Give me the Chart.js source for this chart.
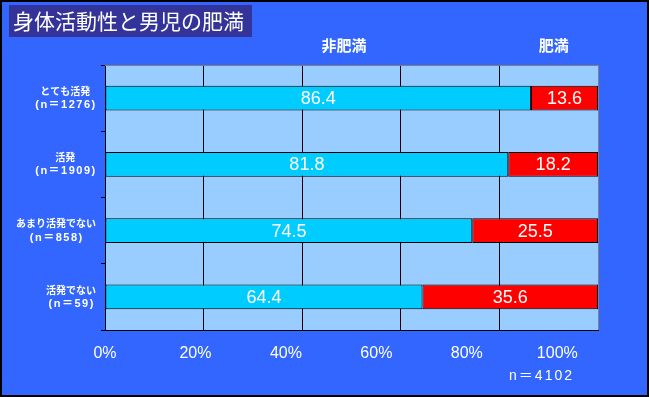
<!DOCTYPE html>
<html><head><meta charset="utf-8">
<script src="https://cdn.jsdelivr.net/npm/chart.js@4"></script>
<style>html,body{margin:0;padding:0;background:#3366FF;}</style>
</head><body>
<canvas id="c" width="649" height="397"></canvas>
<script>
const titleText = '身体活動性と男児の肥満';
const categories = [['とても活発','(n＝1276)'],['活発','(n＝1909)'],['あまり活発でない','(n＝858)'],['活発でない','(n＝59)']];
const seriesNames = ['非肥満','肥満'];
const nonObese = [86.4, 81.8, 74.5, 64.4];
const obese = [13.6, 18.2, 25.5, 35.6];
const tickValues = [0, 20, 40, 60, 80, 100];
const footnote = 'n＝4102';

const JP = '"Noto Sans CJK JP"';
const LAT = '"Liberation Sans", ' + JP;

const deco = {
  id: 'deco',
  beforeDraw(chart) {
    const ctx = chart.ctx, a = chart.chartArea;
    ctx.save();
    ctx.fillStyle = '#3366FF';
    ctx.fillRect(0, 0, chart.width, chart.height);
    ctx.fillStyle = '#99CCFF';
    ctx.fillRect(a.left, a.top, a.right - a.left, a.bottom - a.top);
    // title box
    ctx.fillStyle = '#333399';
    ctx.fillRect(9, 5, 243, 32);
    ctx.fillStyle = '#FFFFFF';
    ctx.font = '21px ' + JP;
    ctx.textBaseline = 'middle';
    ctx.textAlign = 'left';
    ctx.fillText(titleText, 13, 21);
    ctx.restore();
  },
  afterDatasetsDraw(chart) {
    const ctx = chart.ctx;
    ctx.save();
    ctx.fillStyle = '#FFFFFF';
    ctx.font = '18px ' + LAT;
    ctx.textAlign = 'center';
    ctx.textBaseline = 'middle';
    chart.data.datasets.forEach((ds, di) => {
      const meta = chart.getDatasetMeta(di);
      meta.data.forEach((el, i) => {
        const cx = (el.x + el.base) / 2;
        ctx.fillText(ds.data[i].toFixed(1), cx, el.y + 1);
      });
    });
    ctx.restore();
  },
  afterDraw(chart) {
    const ctx = chart.ctx, a = chart.chartArea;
    const xs = chart.scales.x, ys = chart.scales.y;
    ctx.save();
    // top gray edge
    ctx.strokeStyle = '#808080';
    ctx.lineWidth = 1;
    ctx.beginPath();
    ctx.moveTo(a.left, a.top + 0.5); ctx.lineTo(a.right, a.top + 0.5);
    ctx.stroke();
    // bottom black edge
    ctx.strokeStyle = '#000000';
    ctx.beginPath();
    ctx.moveTo(a.left, a.bottom + 0.5); ctx.lineTo(a.right + 1, a.bottom + 0.5);
    ctx.stroke();
    // y labels
    ctx.fillStyle = '#FFFFFF';
    ctx.textBaseline = 'middle';
    ctx.textAlign = 'center';
    categories.forEach((lines, i) => {
      const y = ys.getPixelForValue(i);
      ctx.font = 'bold 10px ' + JP;
      ctx.letterSpacing = '0px';
      const w1 = ctx.measureText(lines[0]).width;
      ctx.font = 'bold 11px ' + LAT;
      ctx.letterSpacing = '1.5px';
      const w2 = ctx.measureText(lines[1]).width;
      const cx = 96 - Math.max(w1, w2) / 2;
      ctx.font = 'bold 10px ' + JP;
      ctx.letterSpacing = '0px';
      ctx.fillText(lines[0], cx, y - 7);
      ctx.font = 'bold 11px ' + LAT;
      ctx.letterSpacing = '1.5px';
      ctx.fillText(lines[1], cx + 0.75, y + 7);
    });
    // legend labels
    ctx.letterSpacing = '0px';
    ctx.font = 'bold 15px ' + JP;
    ctx.fillText(seriesNames[0], xs.getPixelForValue(48.5), 45);
    ctx.fillText(seriesNames[1], xs.getPixelForValue(91), 45);
    // footnote
    ctx.font = '14px ' + LAT;
    ctx.letterSpacing = '2px';
    ctx.textAlign = 'right';
    ctx.fillText(footnote, 574, 376);
    ctx.letterSpacing = '0px';
    // outer border
    ctx.strokeStyle = '#000000';
    ctx.lineWidth = 2;
    ctx.strokeRect(1, 1, chart.width - 2, chart.height - 2);
    ctx.restore();
  }
};

new Chart(document.getElementById('c'), {
  type: 'bar',
  data: {
    labels: categories.map(c => c[0]),
    datasets: [
      { label: seriesNames[0], data: nonObese, backgroundColor: '#00CCFF', borderColor: '#000000', borderWidth: 1, borderSkipped: false, barPercentage: 0.37, categoryPercentage: 1 },
      { label: seriesNames[1], data: obese, backgroundColor: '#FF0000', borderColor: '#000000', borderWidth: 1, borderSkipped: false, barPercentage: 0.37, categoryPercentage: 1 }
    ]
  },
  options: {
    indexAxis: 'y',
    responsive: false,
    animation: false,
    devicePixelRatio: 1,
    layout: { padding: { top: 65, right: 51, bottom: 0, left: 0 } },
    plugins: { legend: { display: false }, tooltip: { enabled: false }, title: { display: false } },
    scales: {
      x: {
        type: 'linear', stacked: true, min: 0, max: 100, position: 'bottom', weight: 0,
        afterFit: s => { s.height = 0; },
        ticks: { display: false, stepSize: 20 },
        grid: { color: c => (c.tick && c.tick.value === 100) ? '#808080' : '#000000', lineWidth: 1, drawTicks: false },
        border: { display: false }
      },
      x2: {
        type: 'linear', min: 0, max: 109, position: 'bottom', weight: 1,
        afterFit: s => { s.height = 67; },
        afterBuildTicks: s => { s.ticks = tickValues.map(v => ({ value: v })); },
        ticks: { color: '#FFFFFF', font: { family: 'Liberation Sans', size: 16 }, padding: 14, callback: v => v + '%', maxRotation: 0, autoSkip: false },
        grid: { display: false, drawTicks: false },
        border: { display: false }
      },
      y: {
        type: 'category', stacked: true,
        afterFit: s => { s.width = 105; },
        ticks: { display: false },
        grid: { offset: true, drawOnChartArea: false, tickLength: 4, color: '#000000' },
        border: { color: '#000000' }
      }
    }
  },
  plugins: [deco]
});
</script>
</body></html>
